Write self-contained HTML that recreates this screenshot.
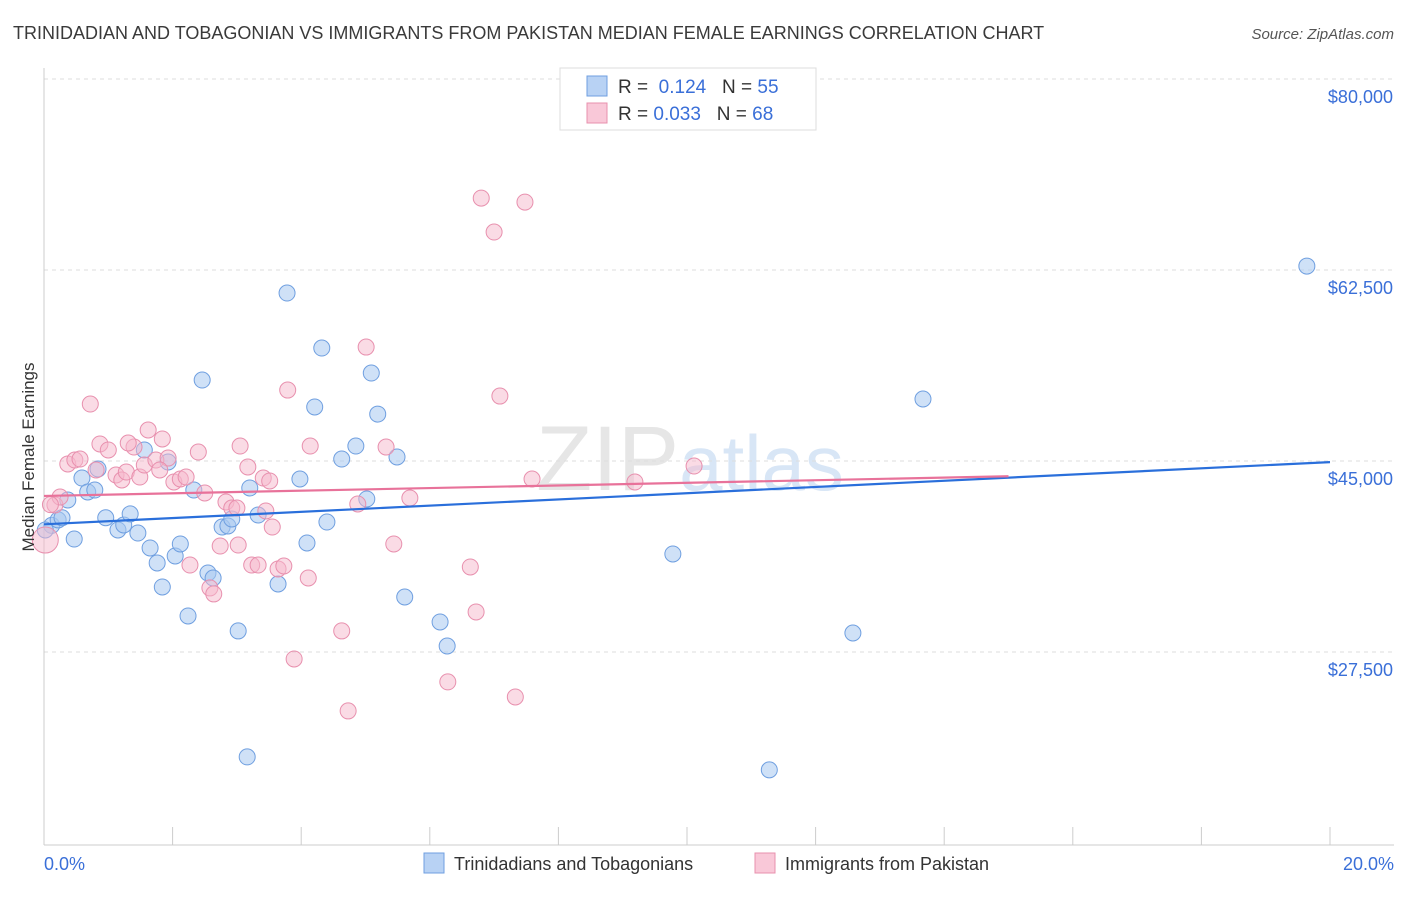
<!DOCTYPE html>
<html><head><meta charset="utf-8"><style>
body{margin:0;background:#fff;font-family:"Liberation Sans",sans-serif}
svg text{font-family:"Liberation Sans",sans-serif}
</style></head><body>
<svg id="chart" width="1406" height="892" xmlns="http://www.w3.org/2000/svg">
<text x="13" y="39" font-size="18" fill="#3a3a3a">TRINIDADIAN AND TOBAGONIAN VS IMMIGRANTS FROM PAKISTAN MEDIAN FEMALE EARNINGS CORRELATION CHART</text>
<text x="1394" y="39" font-size="15" fill="#555" font-style="italic" text-anchor="end">Source: ZipAtlas.com</text>
<text x="690" y="490" font-size="92" fill="#e6e6e6" text-anchor="middle" font-family="Liberation Serif">ZIP<tspan fill="#d8e6f6" font-family="Liberation Sans" font-size="78">atlas</tspan></text>
<g id="grid"></g><g id="axes"></g><g id="points"></g><g id="lines"></g>
<text transform="translate(34,457) rotate(-90)" font-size="17" fill="#333" text-anchor="middle">Median Female Earnings</text>
<text x="44" y="870" font-size="18" fill="#3a6fd8">0.0%</text>
<text x="1394" y="870" font-size="18" fill="#3a6fd8" text-anchor="end">20.0%</text>
<g>
<rect x="560" y="68" width="256" height="62" fill="#fff" stroke="#ddd"/>
<rect x="587" y="76" width="20" height="20" fill="#b8d2f4" stroke="#6f9fe0"/>
<rect x="587" y="103" width="20" height="20" fill="#f9c8d8" stroke="#e890ae"/>
<text x="618" y="93" font-size="19" fill="#333">R = <tspan fill="#3a6fd8">&#160;0.124</tspan>&#160;&#160;&#160;N = <tspan fill="#3a6fd8">55</tspan></text>
<text x="618" y="120" font-size="19" fill="#333">R = <tspan fill="#3a6fd8">0.033</tspan>&#160;&#160;&#160;N = <tspan fill="#3a6fd8">68</tspan></text>
</g>
<g>
<rect x="424" y="853" width="20" height="20" fill="#b8d2f4" stroke="#6f9fe0"/>
<text x="454" y="870" font-size="18" fill="#333">Trinidadians and Tobagonians</text>
<rect x="755" y="853" width="20" height="20" fill="#f9c8d8" stroke="#e890ae"/>
<text x="785" y="870" font-size="18" fill="#333">Immigrants from Pakistan</text>
</g>
</svg>
<script>
const yTicks=[80000,62500,45000,27500];
const yTickLabels=["$80,000","$62,500","$45,000","$27,500"];
const xTicks=[0,2,4,6,8,10,12,14,16,18,20];
const blueX=[0.12,0.22,0.28,0.47,0.37,0.59,0.68,0.79,0.84,0.96,1.15,1.24,1.34,1.46,1.56,1.65,1.76,1.84,1.93,2.04,2.12,2.24,2.33,2.46,2.55,2.63,2.77,2.86,2.92,3.02,3.16,3.2,3.33,3.64,3.78,3.98,4.09,4.21,4.32,4.4,4.63,4.85,5.02,5.09,5.19,5.49,5.61,6.16,6.27,9.78,11.28,12.58,13.67,19.64,0.02];
const blueY=[39100,39600,39800,37850,41430,43440,42160,42340,44270,39800,38680,39140,40150,38400,46010,37030,35660,33460,44910,36300,37400,30800,42340,52420,34740,34280,38950,39050,39690,29430,17890,42530,40050,33730,60390,43350,37490,49950,55350,39410,45180,46370,41520,53060,49300,45370,32540,30250,28050,36480,16700,29240,50680,62860,38680];
const pinkX=[0.02,0.17,0.25,0.37,0.48,0.56,0.72,0.81,0.87,1.0,1.12,1.21,1.28,1.4,1.49,1.56,1.62,1.74,1.84,1.93,2.02,2.12,2.21,2.27,2.4,2.5,2.58,2.64,2.74,2.83,2.92,3.02,3.05,3.17,3.23,3.33,3.41,3.45,3.55,3.64,3.73,3.79,3.89,4.11,4.14,4.63,4.73,4.88,5.01,5.32,5.44,5.69,6.28,6.63,6.72,6.8,7.0,7.09,7.33,7.48,7.59,9.19,10.11,3.51,1.8,1.31,3.0,0.1];
const pinkY=[37760,40970,41700,44730,45090,45180,50220,44180,46560,46010,43720,43260,43990,46280,43530,44630,47840,45090,47020,45270,43080,43350,43530,35470,45820,42070,33370,32820,37210,41240,40690,37300,46370,44450,35470,35470,43440,40420,38950,35110,35380,51500,26860,34280,46370,29430,22100,41060,55440,46280,37400,41610,24760,35290,31170,69090,65980,50950,23380,68720,43350,43080,44540,43170,44180,46650,40690,41000];
const blueLine=[[0,39200],[20,44900]];
const pinkLine=[[0,41800],[15,43600]];
const NS="http://www.w3.org/2000/svg";
const xs=v=>44+v*64.3;
const ys=v=>461-(v-45000)*191/17500;
function mk(tag,attrs,parent){const e=document.createElementNS(NS,tag);for(const k in attrs)e.setAttribute(k,attrs[k]);document.getElementById(parent).appendChild(e);return e;}
let e;
e=mk('line',{x1:44,x2:1394,y1:79,y2:79,stroke:'#ddd','stroke-dasharray':'4,4'},'grid');


yTicks.forEach((t,i)=>{
 e=mk('line',{x1:44,x2:1394,y1:ys(t),y2:ys(t),stroke:'#ddd','stroke-dasharray':'4,4'},'grid');
 
 
 e=mk('text',{x:1393,y:ys(t)+24,'font-size':18,fill:'#3a6fd8','text-anchor':'end'},'grid');
 e.textContent=yTickLabels[i];
 
 
});
e=mk('line',{x1:44,x2:44,y1:68,y2:845,stroke:'#ccc'},'axes');


e=mk('line',{x1:44,x2:1394,y1:845,y2:845,stroke:'#ccc'},'axes');


xTicks.forEach(t=>{
 e=mk('line',{x1:xs(t),x2:xs(t),y1:827,y2:845,stroke:'#ccc'},'axes');
 
 
});
blueX.forEach((x,i)=>{
 e=mk('circle',{cx:xs(x),cy:ys(blueY[i]),r:8,fill:'#a8c8f0','fill-opacity':0.55,stroke:'#6f9fe0','stroke-width':1},'points');
 
 
});
pinkX.forEach((x,i)=>{
 e=mk('circle',{cx:xs(x),cy:ys(pinkY[i]),r:i==0?13:8,fill:'#f6b8cc','fill-opacity':0.5,stroke:'#e890ae','stroke-width':1},'points');
 
 
});
e=mk('line',{x1:xs(blueLine[0][0]),y1:ys(blueLine[0][1]),x2:xs(blueLine[1][0]),y2:ys(blueLine[1][1]),stroke:'#2a6fdb','stroke-width':2.2},'lines');


e=mk('line',{x1:xs(pinkLine[0][0]),y1:ys(pinkLine[0][1]),x2:xs(pinkLine[1][0]),y2:ys(pinkLine[1][1]),stroke:'#e8729a','stroke-width':2.2},'lines');


</script>
</body></html>
